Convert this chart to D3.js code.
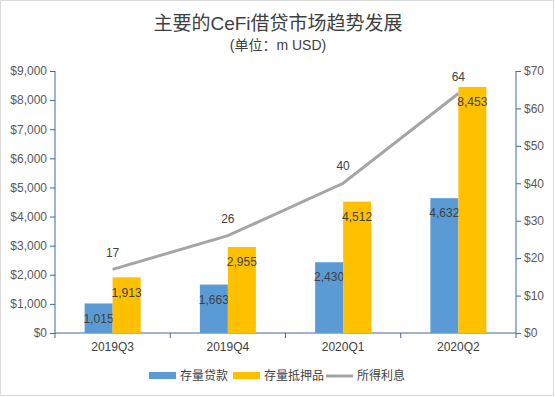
<!DOCTYPE html>
<html>
<head>
<meta charset="utf-8">
<script src="https://cdn.jsdelivr.net/npm/d3@7"></script>
<style>
  body { margin: 0; background: #fff; }
  svg text { font-family: "Liberation Sans", Arial, "Noto Sans CJK SC", sans-serif; }
</style>
</head>
<body>
<svg id="chart" width="555" height="397"></svg>
<script>
var quarters = ["2019Q3", "2019Q4", "2020Q1", "2020Q2"];
var loans = [1015, 1663, 2430, 4632];
var collateral = [1913, 2955, 4512, 8453];
var interest = [17, 26, 40, 64];
var leftTicks = [0, 1000, 2000, 3000, 4000, 5000, 6000, 7000, 8000, 9000];
var rightTicks = [0, 10, 20, 30, 40, 50, 60, 70];
var seriesNames = ["存量贷款", "存量抵押品", "所得利息"];

var svg = d3.select("#chart"),
    margin = { top: 71, right: 39, bottom: 64, left: 55 },
    width = +svg.attr("width") - margin.left - margin.right,
    height = +svg.attr("height") - margin.top - margin.bottom;

var axisColor = "#3e6a9a", textColor = "#404040";
var colors = ["#5b9bd5", "#ffc000", "#a5a5a5"];

svg.append("rect")
    .attr("x", 0.5).attr("y", 0.5)
    .attr("width", 553).attr("height", 395)
    .attr("fill", "#fff").attr("stroke", "#d9d9d9");

svg.append("text")
    .attr("x", 278).attr("y", 30)
    .attr("text-anchor", "middle")
    .attr("font-size", 19)
    .attr("fill", textColor)
    .text("主要的CeFi借贷市场趋势发展");

svg.append("text")
    .attr("x", 278).attr("y", 50)
    .attr("text-anchor", "middle")
    .attr("font-size", 14)
    .attr("fill", textColor)
    .text("(单位：m USD)");

var g = svg.append("g").attr("transform", "translate(" + margin.left + "," + margin.top + ")");

var x0 = d3.scaleBand().domain(quarters).range([0, width]);
var yL = d3.scaleLinear().domain([0, 9000]).range([height, 0]);
var yR = d3.scaleLinear().domain([0, 70]).range([height, 0]);
var barW = 28;

// axes
var axL = g.append("g")
    .call(d3.axisLeft(yL).tickValues(leftTicks).tickSize(5).tickPadding(3)
        .tickFormat(function (d) { return "$" + d3.format(",")(d); }));
var axR = g.append("g")
    .attr("transform", "translate(" + width + ",0)")
    .call(d3.axisRight(yR).tickValues(rightTicks).tickSize(5).tickPadding(3)
        .tickFormat(function (d) { return "$" + d; }));
[axL, axR].forEach(function (a) {
    a.select(".domain").attr("stroke", axisColor).attr("d", "M0,0V" + (height + 5));
    a.selectAll(".tick line").attr("stroke", axisColor);
    a.selectAll("text").attr("fill", "#595959").attr("font-size", 12)
        .style("font-family", "'Liberation Sans', Arial, sans-serif");
});

// x axis
var axB = g.append("g").attr("transform", "translate(0," + height + ")");
axB.append("line").attr("x1", 0).attr("x2", width).attr("stroke", axisColor);
axB.selectAll(".sep")
    .data(quarters.slice(1))
    .enter().append("line")
    .attr("x1", function (d) { return x0(d); })
    .attr("x2", function (d) { return x0(d); })
    .attr("y2", 5)
    .attr("stroke", axisColor);
axB.selectAll(".lbl")
    .data(quarters)
    .enter().append("text")
    .attr("x", function (d) { return x0(d) + x0.bandwidth() / 2; })
    .attr("y", 18)
    .attr("text-anchor", "middle")
    .attr("font-size", 12)
    .attr("fill", textColor)
    .text(function (d) { return d; });

// bars
var bars = [loans, collateral];
bars.forEach(function (vals, s) {
    var bx = function (d, i) { return x0(quarters[i]) + x0.bandwidth() / 2 - barW + s * barW; };
    g.append("g").selectAll("rect")
        .data(vals)
        .enter().append("rect")
        .attr("x", bx)
        .attr("y", function (d) { return yL(d); })
        .attr("width", barW)
        .attr("height", function (d) { return height - yL(d); })
        .attr("fill", colors[s]);
    g.append("g").selectAll("text")
        .data(vals)
        .enter().append("text")
        .attr("x", function (d, i) { return bx(d, i) + barW / 2; })
        .attr("y", function (d) { return yL(d) + 15; })
        .attr("dy", "0.35em")
        .attr("text-anchor", "middle")
        .attr("font-size", 12)
        .attr("fill", textColor)
        .text(function (d) { return d3.format(",")(d); });
});

// line
var line = d3.line()
    .x(function (d, i) { return x0(quarters[i]) + x0.bandwidth() / 2; })
    .y(function (d) { return yR(d); });
g.append("path")
    .datum(interest)
    .attr("d", line)
    .attr("fill", "none")
    .attr("stroke", colors[2])
    .attr("stroke-width", 3);
g.append("g").selectAll("text")
    .data(interest)
    .enter().append("text")
    .attr("x", function (d, i) { return x0(quarters[i]) + x0.bandwidth() / 2; })
    .attr("y", function (d) { return yR(d) - 17; })
    .attr("dy", "0.35em")
    .attr("text-anchor", "middle")
    .attr("font-size", 12)
    .attr("fill", textColor)
    .text(function (d) { return d; });

// legend
var legendX = [149, 233, 326];
var legend = svg.append("g").selectAll("g")
    .data(seriesNames)
    .enter().append("g")
    .attr("transform", function (d, i) { return "translate(" + legendX[i] + ",376)"; });
legend.each(function (d, i) {
    var el = d3.select(this);
    if (i < 2) {
        el.append("rect").attr("x", 0).attr("y", -4).attr("width", 27).attr("height", 7).attr("fill", colors[i]);
    } else {
        el.append("line").attr("x1", 0).attr("x2", 27).attr("stroke", colors[i]).attr("stroke-width", 3);
    }
    el.append("text")
        .attr("x", 31).attr("dy", "0.35em")
        .attr("font-size", 12)
        .attr("fill", textColor)
        .text(d);
});
</script>
</body>
</html>
